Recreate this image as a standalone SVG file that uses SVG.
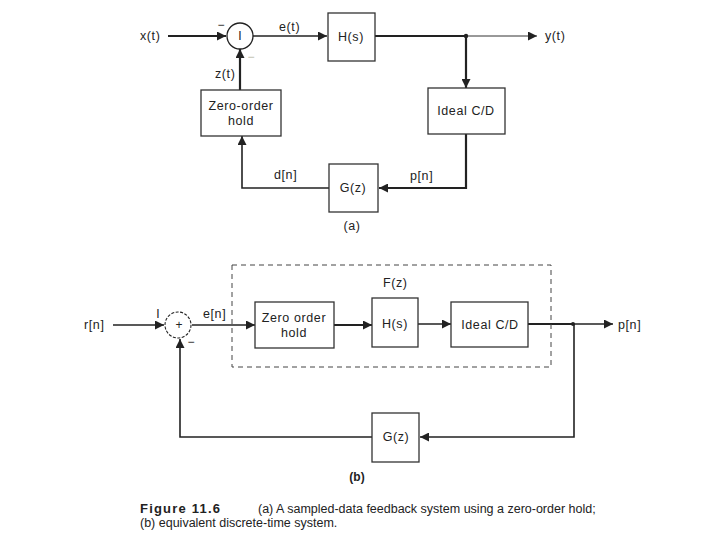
<svg xmlns="http://www.w3.org/2000/svg" width="720" height="540" viewBox="0 0 720 540">
<defs>
<marker id="ah" viewBox="0 0 10 10" refX="10" refY="5" markerWidth="9" markerHeight="9" markerUnits="userSpaceOnUse" orient="auto">
<path d="M0,0 L10,5 L0,10 Z" fill="#222"/>
</marker>
</defs>
<style>
.box{fill:#fff;stroke:#333;stroke-width:1.3}
.ln{fill:none;stroke:#222;stroke-width:1.6}
.thk{fill:none;stroke:#222;stroke-width:2.2}
.thin{fill:none;stroke:#333;stroke-width:1}
.dash{fill:none;stroke:#444;stroke-width:1;stroke-dasharray:5,4}
text{font-family:"Liberation Sans",Arial,sans-serif;font-size:12px;fill:#222}
.lbl{font-size:12.5px;letter-spacing:0.6px}
.c{text-anchor:middle}
.cap{font-size:12.5px}
.bold{font-weight:bold}
.fig{font-size:13px;letter-spacing:1.2px}
</style>
<rect width="720" height="540" fill="#fff"/>

<g id="connectors">
<!-- (a) -->
<line class="thk" x1="168" y1="36" x2="226" y2="36" marker-end="url(#ah)"/>
<line class="ln" x1="253" y1="36" x2="327" y2="36" marker-end="url(#ah)"/>
<line class="thk" x1="375" y1="36" x2="466" y2="36"/>
<line class="thin" x1="466" y1="36" x2="537" y2="36" marker-end="url(#ah)"/>
<circle cx="466" cy="36" r="2.2" fill="#222"/>
<line class="thk" x1="466" y1="36" x2="466" y2="88" marker-end="url(#ah)"/>
<polyline class="thk" points="466,134 466,188 379,188" marker-end="url(#ah)"/>
<polyline class="ln" points="329,188 242,188 242,136" marker-end="url(#ah)"/>
<line class="thk" x1="240" y1="90" x2="240" y2="49" marker-end="url(#ah)"/>
<!-- (b) -->
<line class="ln" x1="113" y1="325" x2="164" y2="325" marker-end="url(#ah)"/>
<line class="ln" x1="192" y1="325" x2="255" y2="325" marker-end="url(#ah)"/>
<line class="thk" x1="334" y1="325" x2="372" y2="325" marker-end="url(#ah)"/>
<line class="ln" x1="418" y1="324" x2="451" y2="324" marker-end="url(#ah)"/>
<line class="thk" x1="528" y1="324" x2="573" y2="324"/>
<line class="ln" x1="573" y1="324" x2="613" y2="324" marker-end="url(#ah)"/>
<circle cx="573" cy="324" r="2" fill="#222"/>
<polyline class="ln" points="574,324 574,437 420,437" marker-end="url(#ah)"/>
<polyline class="ln" points="372,437 180,437 180,339" marker-end="url(#ah)"/>
</g>

<g id="sum-a">
<circle cx="240" cy="36" r="13" fill="#fff" stroke="#222" stroke-width="1.3"/>
<text class="c" x="240" y="40">I</text>
<text class="c" x="221" y="29">−</text>
<text class="c" x="251" y="61" style="fill:#bba">−</text>
</g>
<g id="H-a"><rect class="box" x="328" y="13" width="47" height="48"/><text class="c lbl" x="351" y="41">H(s)</text></g>
<g id="CD-a"><rect class="box" x="428" y="88" width="77" height="46"/><text class="c lbl" x="466" y="115">Ideal C/D</text></g>
<g id="G-a"><rect class="box" x="329" y="164" width="49" height="48"/><text class="c lbl" x="353" y="192">G(z)</text></g>
<g id="ZOH-a"><rect class="box" x="201" y="90" width="80" height="46"/><text class="c lbl" x="241" y="110">Zero-order</text><text class="c lbl" x="241" y="125">hold</text></g>

<g id="labels-a">
<text class="lbl" x="140" y="40">x(t)</text>
<text class="lbl" x="279" y="31">e(t)</text>
<text class="lbl" x="545" y="40">y(t)</text>
<text class="lbl" x="215" y="78">z(t)</text>
<text class="lbl" x="274" y="179">d[n]</text>
<text class="lbl" x="410" y="180">p[n]</text>
<text class="c lbl" x="352" y="230">(a)</text>
</g>

<g id="Fz">
<rect class="dash" x="232" y="265" width="319" height="102"/>
<text class="lbl" x="383" y="287">F(z)</text>
</g>
<g id="sum-b">
<circle cx="178" cy="325" r="13" fill="#fff" stroke="#222" stroke-width="1.1" stroke-dasharray="3,1.5"/>
<text class="c" x="179" y="329">+</text>
<text class="c" x="158" y="318">I</text>
<text class="c" x="191" y="346">−</text>
</g>
<g id="ZOH-b"><rect class="box" x="255" y="302" width="79" height="46"/><text class="c lbl" x="294" y="322">Zero order</text><text class="c lbl" x="294" y="337">hold</text></g>
<g id="H-b"><rect class="box" x="372" y="298" width="46" height="49"/><text class="c lbl" x="395" y="328">H(s)</text></g>
<g id="CD-b"><rect class="box" x="451" y="302" width="77" height="45"/><text class="c lbl" x="490" y="329">Ideal C/D</text></g>
<g id="G-b"><rect class="box" x="372" y="413" width="47" height="49"/><text class="c lbl" x="396" y="441">G(z)</text></g>

<g id="labels-b">
<text class="lbl" x="84" y="329">r[n]</text>
<text class="lbl" x="203" y="318">e[n]</text>
<text class="lbl" x="618" y="329">p[n]</text>
<text class="c bold" x="357" y="481">(b)</text>
</g>

<g id="caption">
<text class="cap" x="140" y="513"><tspan class="bold fig">Figure 11.6</tspan><tspan x="258">(a) A sampled-data feedback system using a zero-order hold;</tspan></text>
<text class="cap" x="140" y="527">(b) equivalent discrete-time system.</text>
</g>
</svg>
